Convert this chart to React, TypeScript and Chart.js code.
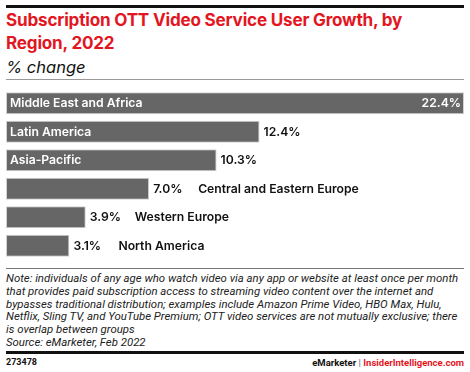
import React, { useEffect, useRef } from "react";
import { Chart, registerables } from "chart.js";
Chart.register(...registerables);

const categories = [
  "Middle East and Africa",
  "Latin America",
  "Asia-Pacific",
  "Central and Eastern Europe",
  "Western Europe",
  "North America",
];
const values = [22.4, 12.4, 10.3, 7.0, 3.9, 3.1];

const titleLines = ["Subscription OTT Video Service User Growth, by", "Region, 2022"];
const subtitle = "% change";
const noteLines = [
  "Note: individuals of any age who watch video via any app or website at least once per month",
  "that provides paid subscription access to streaming video content over the internet and",
  "bypasses traditional distribution; examples include Amazon Prime Video, HBO Max, Hulu,",
  "Netflix, Sling TV, and YouTube Premium; OTT video services are not mutually exclusive; there",
  "is overlap between groups",
  "Source: eMarketer, Feb 2022",
];
const chartId = "273478";

const INTER = "Inter, 'Liberation Sans', Arial, sans-serif";
const ROBOTO = "Roboto, 'Liberation Sans', Arial, sans-serif";
const RED = "#e3161f";

const labelPlugin = {
  id: "barLabels",
  afterDatasetsDraw(chart: any) {
    const ctx = chart.ctx;
    const meta = chart.getDatasetMeta(0);
    ctx.save();
    ctx.font = `600 12.2px ${INTER}`;
    ctx.textBaseline = "middle";
    meta.data.forEach((bar: any, i: number) => {
      const { x, y, base } = bar.getProps(["x", "y", "base"], true);
      const left = Math.min(x, base);
      const right = Math.max(x, base);
      const valText = values[i].toFixed(1) + "%";
      const catText = categories[i];
      const catW = ctx.measureText(catText).width;
      const valW = ctx.measureText(valText).width;
      const catInside = right - left >= catW + 14;
      const valInside = right + 5 + valW > chart.chartArea.right;
      if (catInside) {
        ctx.fillStyle = "#ffffff";
        ctx.textAlign = "left";
        ctx.fillText(catText, left + 4, y + 0.5);
      }
      let valX: number;
      if (valInside) {
        ctx.fillStyle = "#ffffff";
        ctx.textAlign = "right";
        ctx.fillText(valText, right - 3, y + 0.5);
        valX = right - 3 - valW;
      } else {
        ctx.fillStyle = "#111111";
        ctx.textAlign = "left";
        valX = right + 4;
        ctx.fillText(valText, valX, y + 0.5);
      }
      if (!catInside) {
        ctx.fillStyle = "#111111";
        ctx.textAlign = "left";
        ctx.fillText(catText, valX + 45, y + 0.5);
      }
    });
    ctx.restore();
  },
};

export default function App() {
  const canvasRef = useRef<HTMLCanvasElement | null>(null);

  useEffect(() => {
    if (!canvasRef.current) return;
    const chart = new Chart(canvasRef.current, {
      type: "bar",
      data: {
        labels: categories,
        datasets: [
          {
            data: values,
            backgroundColor: "#666666",
            borderColor: "#d2d2d2",
            borderWidth: 1,
            borderSkipped: false,
            barPercentage: 0.77,
            categoryPercentage: 1,
          },
        ],
      },
      options: {
        indexAxis: "y",
        animation: false,
        responsive: false,
        maintainAspectRatio: false,
        layout: { padding: { left: 6, right: 6, top: 0, bottom: 0 } },
        plugins: {
          legend: { display: false },
          tooltip: { enabled: false },
          title: { display: false },
        },
        scales: {
          x: { display: false, min: 0, max: 22.4 },
          y: { display: false, offset: true, grid: { display: false } },
        },
      },
      plugins: [labelPlugin],
    } as any);
    return () => chart.destroy();
  }, []);

  const abs = (s: React.CSSProperties): React.CSSProperties => ({ position: "absolute", ...s });

  return (
    <div
      style={{
        position: "fixed",
        left: 0,
        top: 0,
        width: 470,
        height: 372,
        background: "#ffffff",
        overflow: "hidden",
        fontFamily: INTER,
      }}
    >
      <div style={abs({ left: 6, top: 5, width: 458, height: 3, background: "#111" })} />
      <div
        style={abs({
          left: 6,
          top: 8,
          color: RED,
          fontWeight: 700,
          fontSize: 17.1,
          lineHeight: "23px",
          whiteSpace: "nowrap",
          letterSpacing: -0.2,
        })}
      >
        {titleLines.map((l, i) => (
          <div key={i}>{l}</div>
        ))}
      </div>
      <div
        style={abs({
          left: 6,
          top: 56,
          fontStyle: "italic",
          fontSize: 16.5,
          lineHeight: "22px",
          color: "#111",
          whiteSpace: "nowrap",
        })}
      >
        {subtitle}
      </div>
      <div style={abs({ left: 6, top: 79, width: 458, height: 1, background: "#999" })} />
      <canvas ref={canvasRef} width={470} height={171} style={abs({ left: 0, top: 89, width: 470, height: 171 })} />
      <div style={abs({ left: 6, top: 268, width: 458, height: 1, background: "#777" })} />
      <div
        style={abs({
          left: 6,
          top: 272,
          fontFamily: ROBOTO,
          fontStyle: "italic",
          fontSize: 11.4,
          lineHeight: "12.8px",
          color: "#222",
          whiteSpace: "nowrap",
        })}
      >
        {noteLines.map((l, i) => (
          <div key={i}>{l}</div>
        ))}
      </div>
      <div style={abs({ left: 6, top: 351, width: 458, height: 3, background: "#111" })} />
      <div
        style={abs({
          left: 6,
          top: 356,
          fontFamily: ROBOTO,
          fontSize: 9,
          fontWeight: 700,
          color: "#111",
          lineHeight: "13px",
        })}
      >
        {chartId}
      </div>
      <div
        style={abs({
          right: 6,
          top: 356,
          fontFamily: ROBOTO,
          fontSize: 9.5,
          fontWeight: 700,
          lineHeight: "13px",
          whiteSpace: "pre",
        })}
      >
        <span style={{ color: "#111" }}>eMarketer</span>
        <span style={{ color: "#777" }}>{" | "}</span>
        <span style={{ color: RED }}>InsiderIntelligence.com</span>
      </div>
    </div>
  );
}
